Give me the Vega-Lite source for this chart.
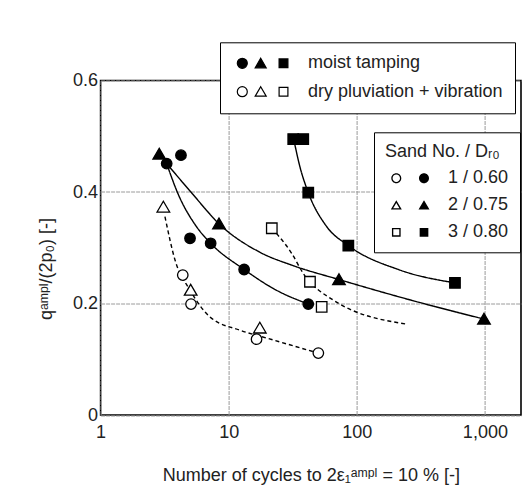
{
  "$schema": "https://vega.github.io/schema/vega-lite/v6.json",
  "width": 420.4,
  "height": 334.5,
  "autosize": {"type": "none"},
  "padding": {"left": 100.6, "top": 80.5, "right": 4, "bottom": 80},
  "background": "white",
  "config": {
    "font": "Liberation Sans",
    "view": {"stroke": "black", "strokeWidth": 1.6},
    "axis": {
      "labelFont": "Liberation Sans", "labelFontSize": 18, "labelColor": "#222",
      "titleFont": "Liberation Sans", "titleFontSize": 18, "titleFontWeight": "normal", "titleColor": "#222",
      "domain": false, "ticks": false, "grid": true, "gridColor": "#9a9a9a", "gridDash": [4, 1], "gridWidth": 1,
      "labelFlush": false, "labelOverlap": false
    },
    "legend": {
      "labelFont": "Liberation Sans", "labelFontSize": 18, "labelColor": "#222", "labelLimit": 400,
      "titleFont": "Liberation Sans", "titleFontSize": 18, "titleFontWeight": "normal", "titleColor": "#222",
      "strokeColor": "black", "fillColor": "white", "orient": "none"
    }
  },
  "datasets": {
    "points": [
      {"n": 3.28, "q": 0.451, "sand": "1 / 0.60", "method": "moist tamping"},
      {"n": 4.24, "q": 0.466, "sand": "1 / 0.60", "method": "moist tamping"},
      {"n": 4.99, "q": 0.317, "sand": "1 / 0.60", "method": "moist tamping"},
      {"n": 7.23, "q": 0.308, "sand": "1 / 0.60", "method": "moist tamping"},
      {"n": 13.2, "q": 0.261, "sand": "1 / 0.60", "method": "moist tamping"},
      {"n": 41.8, "q": 0.199, "sand": "1 / 0.60", "method": "moist tamping"},
      {"n": 2.87, "q": 0.468, "sand": "2 / 0.75", "method": "moist tamping"},
      {"n": 8.4, "q": 0.343, "sand": "2 / 0.75", "method": "moist tamping"},
      {"n": 72.6, "q": 0.243, "sand": "2 / 0.75", "method": "moist tamping"},
      {"n": 984, "q": 0.172, "sand": "2 / 0.75", "method": "moist tamping"},
      {"n": 31.9, "q": 0.495, "sand": "3 / 0.80", "method": "moist tamping"},
      {"n": 38.2, "q": 0.495, "sand": "3 / 0.80", "method": "moist tamping"},
      {"n": 41.8, "q": 0.399, "sand": "3 / 0.80", "method": "moist tamping"},
      {"n": 85.9, "q": 0.304, "sand": "3 / 0.80", "method": "moist tamping"},
      {"n": 584, "q": 0.237, "sand": "3 / 0.80", "method": "moist tamping"},
      {"n": 4.38, "q": 0.251, "sand": "1 / 0.60", "method": "dry pluviation + vibration"},
      {"n": 5.08, "q": 0.199, "sand": "1 / 0.60", "method": "dry pluviation + vibration"},
      {"n": 16.5, "q": 0.136, "sand": "1 / 0.60", "method": "dry pluviation + vibration"},
      {"n": 50.1, "q": 0.111, "sand": "1 / 0.60", "method": "dry pluviation + vibration"},
      {"n": 3.09, "q": 0.373, "sand": "2 / 0.75", "method": "dry pluviation + vibration"},
      {"n": 5.05, "q": 0.224, "sand": "2 / 0.75", "method": "dry pluviation + vibration"},
      {"n": 17.5, "q": 0.156, "sand": "2 / 0.75", "method": "dry pluviation + vibration"},
      {"n": 21.7, "q": 0.335, "sand": "3 / 0.80", "method": "dry pluviation + vibration"},
      {"n": 43.1, "q": 0.239, "sand": "3 / 0.80", "method": "dry pluviation + vibration"},
      {"n": 53.2, "q": 0.194, "sand": "3 / 0.80", "method": "dry pluviation + vibration"}
    ],
    "curves": [
      {"curve": "A", "style": "solid", "n": 3.28, "q": 0.451},
      {"curve": "A", "style": "solid", "n": 4.0, "q": 0.398},
      {"curve": "A", "style": "solid", "n": 5.6, "q": 0.338},
      {"curve": "A", "style": "solid", "n": 7.23, "q": 0.308},
      {"curve": "A", "style": "solid", "n": 13.2, "q": 0.261},
      {"curve": "A", "style": "solid", "n": 23.5, "q": 0.224},
      {"curve": "A", "style": "solid", "n": 41.8, "q": 0.199},
      {"curve": "B", "style": "solid", "n": 3.28, "q": 0.451},
      {"curve": "B", "style": "solid", "n": 5.2, "q": 0.397},
      {"curve": "B", "style": "solid", "n": 8.4, "q": 0.343},
      {"curve": "B", "style": "solid", "n": 17.5, "q": 0.292},
      {"curve": "B", "style": "solid", "n": 31.8, "q": 0.268},
      {"curve": "B", "style": "solid", "n": 72.6, "q": 0.243},
      {"curve": "B", "style": "solid", "n": 275, "q": 0.205},
      {"curve": "B", "style": "solid", "n": 984, "q": 0.172},
      {"curve": "C", "style": "solid", "n": 32.5, "q": 0.49},
      {"curve": "C", "style": "solid", "n": 36, "q": 0.445},
      {"curve": "C", "style": "solid", "n": 41.8, "q": 0.399},
      {"curve": "C", "style": "solid", "n": 58.2, "q": 0.338},
      {"curve": "C", "style": "solid", "n": 85.9, "q": 0.304},
      {"curve": "C", "style": "solid", "n": 217, "q": 0.26},
      {"curve": "C", "style": "solid", "n": 584, "q": 0.237},
      {"curve": "D", "style": "dashed", "n": 21.7, "q": 0.335},
      {"curve": "D", "style": "dashed", "n": 31, "q": 0.29},
      {"curve": "D", "style": "dashed", "n": 38.2, "q": 0.254},
      {"curve": "D", "style": "dashed", "n": 65.6, "q": 0.206},
      {"curve": "D", "style": "dashed", "n": 245, "q": 0.163},
      {"curve": "E", "style": "dashed", "n": 3.18, "q": 0.356},
      {"curve": "E", "style": "dashed", "n": 3.81, "q": 0.278},
      {"curve": "E", "style": "dashed", "n": 4.99, "q": 0.224},
      {"curve": "E", "style": "dashed", "n": 7.14, "q": 0.176},
      {"curve": "E", "style": "dashed", "n": 12.3, "q": 0.152},
      {"curve": "E", "style": "dashed", "n": 19.8, "q": 0.138},
      {"curve": "E", "style": "dashed", "n": 50.1, "q": 0.111}
    ]
  },
  "resolve": {"scale": {"shape": "independent"}, "legend": {"shape": "independent"}},
  "layer": [
    {
      "data": {"name": "curves"},
      "mark": {"type": "line", "interpolate": "monotone", "color": "black", "strokeWidth": 1.4},
      "encoding": {
        "x": {
          "field": "n", "type": "quantitative",
          "scale": {"type": "log", "domain": [1, 1914], "nice": false},
          "axis": {"title": "Number of cycles to 2ε₁ᵃᵐᵖˡ = 10 % [-]", "values": [1, 10, 100, 1000], "format": ",", "labelPadding": 8, "titlePadding": 25}
        },
        "y": {
          "field": "q", "type": "quantitative",
          "scale": {"domain": [0, 0.6], "nice": false, "zero": false},
          "axis": {"title": "qᵃᵐᵖˡ/(2p₀) [-]", "values": [0, 0.2, 0.4, 0.6], "format": "~g", "labelPadding": 3, "titlePadding": 17, "titleY": 188}
        },
        "detail": {"field": "curve"},
        "strokeDash": {"field": "style", "type": "nominal", "scale": {"domain": ["solid", "dashed"], "range": [[1, 0], [4, 3]]}, "legend": null}
      }
    },
    {
      "data": {"name": "points"},
      "mark": {"type": "point", "filled": true, "fill": "black", "strokeWidth": 0, "size": 100, "opacity": 0},
      "encoding": {
        "x": {"field": "n", "type": "quantitative"},
        "y": {"field": "q", "type": "quantitative"},
        "shape": {
          "field": "sand", "type": "nominal",
          "scale": {"domain": ["1 / 0.60", "2 / 0.75", "3 / 0.80"], "range": [
            "M-0.54,0A1,1,0,1,1,1.46,0A1,1,0,1,1,-0.54,0ZM-0.28,0A0.74,0.74,0,1,0,1.2,0A0.74,0.74,0,1,0,-0.28,0ZM5,0A1,1,0,1,1,7,0A1,1,0,1,1,5,0Z",
            "M0.46,-1L1.56,0.85L-0.64,0.85ZM0.46,-0.471L-0.165,0.58L1.085,0.58ZM6,-1L7.1,0.85L4.9,0.85Z",
            "M-0.41,-0.87L1.33,-0.87L1.33,0.87L-0.41,0.87ZM-0.14,-0.6L-0.14,0.6L1.06,0.6L1.06,-0.6ZM5.13,-0.87L6.87,-0.87L6.87,0.87L5.13,0.87Z"
          ]},
          "legend": {
            "title": "Sand No. / Dᵣ₀", "legendX": 273.4, "legendY": 51.8,
            "symbolSize": 100, "symbolOpacity": 1, "symbolFillColor": "black", "symbolStrokeWidth": 0,
            "padding": 11, "rowPadding": 9, "titlePadding": 8, "labelOffset": 45
          }
        }
      }
    },
    {
      "data": {"name": "points"},
      "mark": {"type": "point", "filled": true, "stroke": "black", "strokeWidth": 1.3, "size": 110, "opacity": 1},
      "encoding": {
        "x": {"field": "n", "type": "quantitative"},
        "y": {"field": "q", "type": "quantitative"},
        "fill": {
          "field": "method", "type": "nominal",
          "scale": {"domain": ["moist tamping", "dry pluviation + vibration"], "range": ["black", "white"]},
          "legend": {
            "title": null, "legendX": 119.4, "legendY": -38.2,
            "symbolType": "M-0.74,0A1,1,0,1,1,1.26,0A1,1,0,1,1,-0.74,0ZM3.94,-1L5.04,0.9L2.84,0.9ZM7.62,-0.88L9.38,-0.88L9.38,0.88L7.62,0.88Z",
            "symbolSize": 100, "symbolStrokeWidth": 1.2, "symbolStrokeColor": "black",
            "padding": 12, "rowPadding": 10.4, "labelOffset": 58
          }
        },
        "shape": {
          "field": "sand", "type": "nominal",
          "scale": {"domain": ["1 / 0.60", "2 / 0.75", "3 / 0.80"], "range": ["circle", "M0,-1.1L1.2,0.95L-1.2,0.95Z", "square"]},
          "legend": null
        }
      }
    }
  ]
}
